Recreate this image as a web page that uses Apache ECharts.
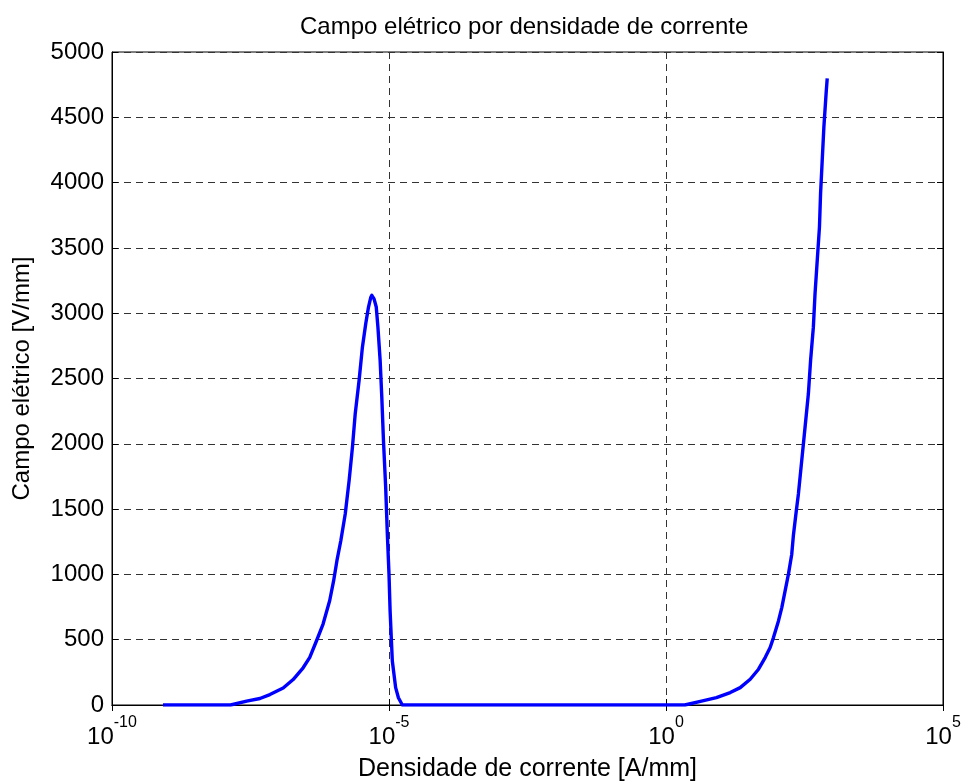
<!DOCTYPE html>
<html>
<head>
<meta charset="utf-8">
<title>Campo elétrico por densidade de corrente</title>
<script src="https://cdn.jsdelivr.net/npm/echarts@6/dist/echarts.min.js"></script>
<style>
  html, body { margin: 0; padding: 0; background: #fff; }
  #chart { width: 965px; height: 782px; }
</style>
</head>
<body>
<div id="chart"></div>
<script>
// Current density as base-10 exponents (J = 10^exp, A/mm)
const densityExp = [
  -9.08, -7.86, -7.84, -7.57, -7.33, -7.15, -6.91, -6.73, -6.55, -6.43,
  -6.31, -6.19, -6.07, -6.00, -5.94, -5.87, -5.79, -5.72, -5.66, -5.61,
  -5.54, -5.48, -5.42, -5.37, -5.33, -5.31, -5.27, -5.23, -5.20, -5.16,
  -5.13, -5.10, -5.06, -5.03, -5.00, -4.98, -4.94, -4.88, -4.83, -4.76,
  0.34, 0.37, 0.64, 0.91, 1.16, 1.34, 1.52, 1.67, 1.79, 1.88,
  1.94, 2.03, 2.09, 2.15, 2.21, 2.27, 2.30, 2.35, 2.39, 2.45,
  2.51, 2.57, 2.61, 2.66, 2.69, 2.73, 2.77, 2.79, 2.82, 2.85,
  2.89, 2.91
];

// Electric field (V/mm)
const fieldValues = [
  0, 0, 15, 30, 50, 80, 130, 195, 285, 365,
  490, 620, 800, 950, 1105, 1258, 1462, 1718, 1973, 2229,
  2485, 2740, 2919, 3047, 3120, 3137, 3110, 3047, 2893, 2638,
  2357, 2025, 1667, 1309, 1002, 720, 337, 133, 56, 0,
  0, 13, 30, 56, 95, 133, 197, 274, 363, 440,
  516, 644, 746, 874, 1002, 1155, 1300, 1480, 1616, 1871,
  2127, 2383, 2638, 2893, 3149, 3405, 3660, 3916, 4172, 4427,
  4683, 4798
];

const xTickExponents = [-10, -5, 0, 5];
const yTicks = [0, 500, 1000, 1500, 2000, 2500, 3000, 3500, 4000, 4500, 5000];

const titleText = 'Campo elétrico por densidade de corrente';
const xName = 'Densidade de corrente [A/mm]';
const yName = 'Campo elétrico [V/mm]';

const FONT = '"Liberation Sans", Arial, Helvetica, sans-serif';

const points = densityExp.map((e, i) => [Math.pow(10, e), fieldValues[i]]);

const gridDash = { color: '#333', width: 1, type: [7, 5] };

const chart = echarts.init(document.getElementById('chart'), null, { renderer: 'canvas' });

chart.setOption({
  backgroundColor: '#fff',
  animation: false,
  title: {
    text: titleText,
    left: 295,
    top: 10,
    textStyle: { fontFamily: FONT, fontSize: 24, fontWeight: 'normal', color: '#000' }
  },
  grid: {
    left: 112, right: 22, top: 52, bottom: 77,
    containLabel: false,
    outerBoundsMode: 'none',
    show: true, borderColor: '#000', borderWidth: 1, backgroundColor: '#fff'
  },
  xAxis: [{
    type: 'log',
    logBase: 10,
    min: Math.pow(10, xTickExponents[0]),
    max: Math.pow(10, xTickExponents[xTickExponents.length - 1]),
    interval: 5,
    name: xName,
    nameLocation: 'middle',
    nameGap: 52,
    nameTextStyle: { fontFamily: FONT, fontSize: 25, color: '#000' },
    axisLine: { show: true, lineStyle: { color: '#000', width: 1 } },
    axisTick: { show: true, inside: true, length: 6, lineStyle: { color: '#000' } },
    minorTick: { show: false },
    splitLine: { show: true, lineStyle: gridDash },
    axisLabel: {
      margin: 10,
      formatter: function (v) {
        const e = Math.round(Math.log10(v));
        return '{b|10}{s|' + e + '}';
      },
      rich: {
        b: { fontFamily: FONT, fontSize: 24, color: '#000', lineHeight: 34, verticalAlign: 'bottom' },
        s: { fontFamily: FONT, fontSize: 16, color: '#000', lineHeight: 16, verticalAlign: 'top' }
      }
    }
  }, {
    type: 'log',
    logBase: 10,
    position: 'top',
    min: Math.pow(10, xTickExponents[0]),
    max: Math.pow(10, xTickExponents[xTickExponents.length - 1]),
    interval: 5,
    axisLine: { show: true, lineStyle: { color: '#000', width: 1 } },
    axisTick: { show: true, inside: true, length: 6, lineStyle: { color: '#000' } },
    axisLabel: { show: false },
    splitLine: { show: false }
  }],
  yAxis: [{
    type: 'value',
    min: yTicks[0],
    max: yTicks[yTicks.length - 1],
    interval: yTicks[1] - yTicks[0],
    name: yName,
    nameLocation: 'middle',
    nameRotate: 90,
    nameGap: 78,
    nameTextStyle: { fontFamily: FONT, fontSize: 24, color: '#000' },
    axisLine: { show: true, lineStyle: { color: '#000', width: 1 } },
    axisTick: { show: true, inside: true, length: 6, lineStyle: { color: '#000' } },
    splitLine: { show: true, lineStyle: gridDash },
    axisLabel: {
      margin: 8, fontFamily: FONT, fontSize: 24, color: '#000',
      formatter: function (v) { return String(v); }
    }
  }, {
    type: 'value',
    position: 'right',
    min: yTicks[0],
    max: yTicks[yTicks.length - 1],
    interval: yTicks[1] - yTicks[0],
    axisLine: { show: true, lineStyle: { color: '#000', width: 1 } },
    axisTick: { show: true, inside: true, length: 6, lineStyle: { color: '#000' } },
    axisLabel: { show: false },
    splitLine: { show: false }
  }],
  series: [{
    type: 'line',
    xAxisIndex: 0,
    yAxisIndex: 0,
    data: points,
    showSymbol: false,
    symbol: 'none',
    lineStyle: { color: '#0000ff', width: 3.4, join: 'round' },
    z: 5
  }]
});
</script>
</body>
</html>
